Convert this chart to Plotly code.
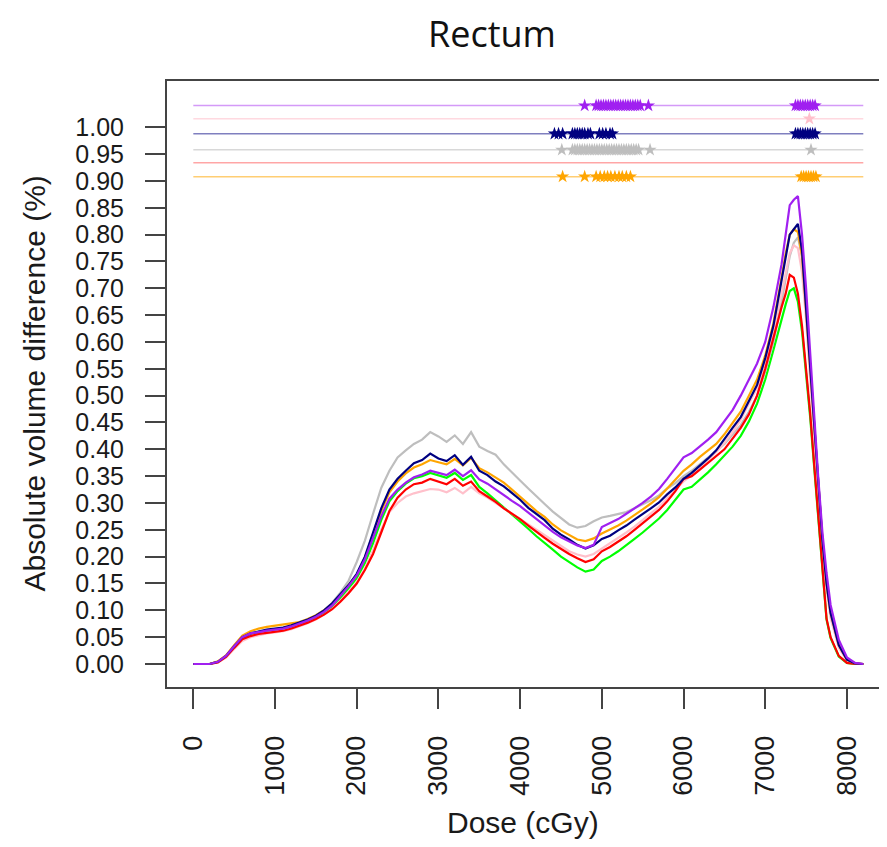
import plotly.graph_objects as go

dose = [0, 100, 200, 300, 400, 500, 600, 700, 800, 900,
        1000, 1100, 1200, 1300, 1400, 1500, 1600, 1700, 1800, 1900,
        2000, 2100, 2200, 2300, 2400, 2500, 2600, 2700, 2800, 2900,
        3000, 3100, 3200, 3300, 3400, 3500, 3600, 3700, 3800, 3900,
        4000, 4100, 4200, 4300, 4400, 4500, 4600, 4700, 4800, 4900,
        5000, 5100, 5200, 5300, 5400, 5500, 5600, 5700, 5800, 5900,
        6000, 6100, 6200, 6300, 6400, 6500, 6600, 6700, 6800, 6900,
        7000, 7100, 7200,
        7250, 7300, 7350, 7400, 7450, 7500, 7550, 7600, 7650, 7700, 7750, 7800,
        7900, 8000, 8100, 8200]

navy_vals = [0, 0, 0, 0.004, 0.015, 0.033, 0.05, 0.057, 0.061, 0.064,
             0.066, 0.068, 0.072, 0.077, 0.083, 0.09, 0.1, 0.113, 0.13, 0.147,
             0.168, 0.2, 0.245, 0.29, 0.325, 0.345, 0.36, 0.374, 0.38, 0.392,
             0.383, 0.378, 0.389, 0.371, 0.386, 0.36, 0.352, 0.34, 0.331, 0.318,
             0.306, 0.291, 0.279, 0.268, 0.252, 0.241, 0.232, 0.222, 0.215, 0.221,
             0.233, 0.239, 0.249, 0.258, 0.269, 0.279, 0.29, 0.301, 0.316, 0.329,
             0.345, 0.356, 0.369, 0.383, 0.398, 0.42, 0.44, 0.46, 0.49, 0.52,
             0.57, 0.63, 0.715,
             0.76, 0.8, 0.81, 0.82, 0.77, 0.66, 0.55, 0.44, 0.33, 0.23, 0.15, 0.095,
             0.035, 0.008, 0.001, 0]

gray_vals = [0, 0, 0, 0.004, 0.014, 0.031, 0.048, 0.056, 0.06, 0.063,
             0.065, 0.067, 0.07, 0.075, 0.082, 0.09, 0.1, 0.114, 0.133, 0.155,
             0.19, 0.23, 0.28, 0.328, 0.36, 0.385, 0.398, 0.41, 0.418, 0.432,
             0.424, 0.414, 0.426, 0.41, 0.432, 0.405, 0.397, 0.39, 0.372, 0.356,
             0.342, 0.327, 0.312, 0.298, 0.284, 0.272, 0.26, 0.254, 0.257, 0.266,
             0.273, 0.276, 0.279, 0.283, 0.29, 0.297, 0.305, 0.314, 0.327, 0.337,
             0.35, 0.36, 0.372, 0.385, 0.397, 0.41, 0.428, 0.445, 0.47, 0.5,
             0.545, 0.6, 0.675,
             0.72, 0.76, 0.785, 0.795, 0.76, 0.66, 0.55, 0.44, 0.335, 0.235, 0.155, 0.1,
             0.038, 0.009, 0.001, 0]

orange_vals = [0, 0, 0, 0.005, 0.016, 0.035, 0.053, 0.061, 0.066, 0.069,
               0.071, 0.073, 0.075, 0.078, 0.084, 0.091, 0.1, 0.112, 0.128, 0.146,
               0.166, 0.198, 0.24, 0.285, 0.32, 0.34, 0.355, 0.366, 0.372, 0.38,
               0.376, 0.372, 0.382, 0.37, 0.384, 0.365, 0.357, 0.348, 0.338, 0.325,
               0.312, 0.298, 0.285, 0.274, 0.26, 0.249, 0.24, 0.232, 0.229, 0.234,
               0.243, 0.25, 0.258, 0.267, 0.277, 0.288, 0.299, 0.311, 0.327, 0.343,
               0.36, 0.372, 0.386, 0.398, 0.41, 0.428, 0.448, 0.47, 0.5, 0.53,
               0.575, 0.635, 0.72,
               0.765, 0.8, 0.81, 0.805, 0.76, 0.66, 0.55, 0.44, 0.33, 0.23, 0.15, 0.095,
               0.035, 0.008, 0.001, 0]

purple_vals = [0, 0, 0, 0.004, 0.015, 0.033, 0.05, 0.057, 0.06, 0.062,
               0.064, 0.066, 0.07, 0.075, 0.081, 0.088, 0.097, 0.109, 0.126, 0.145,
               0.165, 0.195, 0.235, 0.275, 0.308, 0.325, 0.338, 0.348, 0.353, 0.36,
               0.356, 0.352, 0.362, 0.35, 0.361, 0.344, 0.336, 0.325, 0.315, 0.304,
               0.294, 0.282, 0.27, 0.258, 0.246, 0.236, 0.228, 0.221, 0.216, 0.222,
               0.255, 0.262, 0.27, 0.28, 0.29, 0.3, 0.312, 0.326, 0.345, 0.365,
               0.385, 0.393, 0.405, 0.418, 0.432, 0.452, 0.473, 0.5, 0.53, 0.56,
               0.6, 0.665, 0.745,
               0.8, 0.855, 0.865, 0.872, 0.8, 0.7, 0.58, 0.455, 0.345, 0.245, 0.17, 0.11,
               0.045, 0.012, 0.002, 0]

pink_vals = [0, 0, 0, 0.003, 0.012, 0.028, 0.043, 0.05, 0.054, 0.057,
             0.059, 0.061, 0.065, 0.07, 0.076, 0.083, 0.092, 0.103, 0.118, 0.135,
             0.152, 0.178, 0.212, 0.25, 0.283, 0.3, 0.312, 0.318, 0.322, 0.326,
             0.325, 0.32, 0.328, 0.318, 0.33, 0.318, 0.31, 0.3, 0.29, 0.28,
             0.27, 0.26, 0.25, 0.24, 0.229, 0.219, 0.21, 0.204, 0.2, 0.205,
             0.215, 0.224, 0.234, 0.245, 0.256, 0.268, 0.28, 0.293, 0.309, 0.324,
             0.34, 0.352, 0.366, 0.38, 0.395, 0.412, 0.432, 0.455, 0.485, 0.515,
             0.56, 0.62, 0.69,
             0.73, 0.765, 0.78, 0.775, 0.73, 0.64, 0.53, 0.42, 0.315, 0.215, 0.14, 0.085,
             0.03, 0.006, 0.001, 0]

red_vals = [0, 0, 0, 0.003, 0.013, 0.03, 0.046, 0.052, 0.056, 0.058,
            0.06, 0.062, 0.066, 0.071, 0.077, 0.084, 0.092, 0.102, 0.116, 0.132,
            0.15, 0.175, 0.205, 0.245, 0.285, 0.31, 0.325, 0.335, 0.338, 0.345,
            0.34, 0.335, 0.345, 0.332, 0.34, 0.322, 0.312, 0.302, 0.29, 0.28,
            0.27, 0.258, 0.246, 0.235, 0.224, 0.214, 0.205, 0.197, 0.19, 0.195,
            0.21, 0.218, 0.228, 0.238, 0.25, 0.262, 0.274, 0.287, 0.303, 0.322,
            0.345, 0.35, 0.362, 0.375, 0.388, 0.4, 0.42, 0.44, 0.465, 0.5,
            0.55, 0.61, 0.665,
            0.69, 0.725, 0.72, 0.69, 0.63, 0.55, 0.467, 0.37, 0.27, 0.17, 0.085, 0.05,
            0.015, 0.002, 0, 0]

green_vals = [0, 0, 0, 0.004, 0.014, 0.032, 0.049, 0.056, 0.06, 0.062,
              0.064, 0.066, 0.069, 0.074, 0.08, 0.087, 0.095, 0.106, 0.122, 0.14,
              0.16, 0.188, 0.225, 0.268, 0.303, 0.322, 0.336, 0.346, 0.35, 0.356,
              0.352, 0.347, 0.356, 0.343, 0.352, 0.33, 0.318, 0.305, 0.292, 0.279,
              0.266, 0.252, 0.238, 0.226, 0.213, 0.2, 0.19, 0.18, 0.172, 0.176,
              0.192, 0.2, 0.21, 0.221, 0.233, 0.245, 0.258, 0.271, 0.287, 0.305,
              0.325, 0.33, 0.343, 0.357, 0.372, 0.388, 0.405, 0.425, 0.452, 0.485,
              0.53, 0.585, 0.645,
              0.67, 0.695, 0.70, 0.675, 0.62, 0.54, 0.46, 0.365, 0.265, 0.165, 0.083, 0.048,
              0.014, 0.002, 0, 0]

# significance rows (y level of each row) and starred dose positions
sig_levels = {"purple": 1.0405, "pink": 1.016, "navy": 0.988,
              "gray": 0.958, "red": 0.934, "orange": 0.908}
purple_stars = [4790, 4930, 4960, 4990, 5020, 5050, 5080, 5110, 5140, 5170, 5200,
                5230, 5260, 5290, 5320, 5350, 5380, 5410, 5440, 5470, 5570,
                7370, 7400, 7430, 7460, 7490, 7520, 7550, 7580, 7610]
pink_stars = [7540]
navy_stars = [4420, 4470, 4520, 4640, 4670, 4700, 4730, 4760, 4790, 4830, 4860,
              4970, 5010, 5050, 5100, 5130,
              7370, 7400, 7430, 7460, 7490, 7520, 7550, 7580, 7610]
gray_stars = [4510, 4640, 4670, 4700, 4730, 4760, 4790, 4820, 4850, 4880, 4910,
              4940, 4970, 5000, 5030, 5060, 5090, 5120, 5150, 5180, 5210, 5240,
              5270, 5300, 5330, 5360, 5390, 5420, 5450, 5590, 7560]
red_stars = []
orange_stars = [4520, 4790, 4930, 4980, 5030, 5070, 5110, 5160, 5210, 5250, 5300,
                5350, 7440, 7470, 7500, 7530, 7560, 7590, 7620]

ytick_vals = [0.0, 0.05, 0.1, 0.15, 0.2, 0.25, 0.3, 0.35, 0.4, 0.45, 0.5,
              0.55, 0.6, 0.65, 0.7, 0.75, 0.8, 0.85, 0.9, 0.95, 1.0]
ytick_text = ["0.00", "0.05", "0.10", "0.15", "0.20", "0.25", "0.30", "0.35",
              "0.40", "0.45", "0.50", "0.55", "0.60", "0.65", "0.70", "0.75",
              "0.80", "0.85", "0.90", "0.95", "1.00"]
xtick_vals = [0, 1000, 2000, 3000, 4000, 5000, 6000, 7000, 8000]

colors = {"purple": "#A020F0", "pink": "#FFC0CB", "navy": "#000080",
          "gray": "#BEBEBE", "red": "#FF0000", "orange": "#FFA500",
          "green": "#00FF00"}
line_colors = {"purple": "rgba(160,32,240,0.45)", "pink": "rgba(255,192,203,0.6)",
               "navy": "rgba(0,0,128,0.5)", "gray": "rgba(190,190,190,0.6)",
               "red": "rgba(255,0,0,0.35)", "orange": "rgba(255,165,0,0.55)"}

fig = go.Figure()

curves = [("green", green_vals), ("gray", gray_vals), ("pink", pink_vals),
          ("red", red_vals), ("orange", orange_vals), ("navy", navy_vals),
          ("purple", purple_vals)]
for name, vals in curves:
    fig.add_trace(go.Scatter(x=dose, y=vals, mode="lines",
                             line=dict(color=colors[name], width=2.2),
                             showlegend=False, hoverinfo="skip"))

stars = {"purple": purple_stars, "pink": pink_stars, "navy": navy_stars,
         "gray": gray_stars, "red": red_stars, "orange": orange_stars}
for name, lvl in sig_levels.items():
    fig.add_trace(go.Scatter(x=[dose[0], dose[-1]], y=[lvl, lvl], mode="lines",
                             line=dict(color=line_colors[name], width=1.5),
                             showlegend=False, hoverinfo="skip"))
    if stars[name]:
        fig.add_trace(go.Scatter(x=stars[name], y=[lvl] * len(stars[name]),
                                 mode="markers",
                                 marker=dict(symbol="star", size=10,
                                             color=colors[name], line=dict(width=0)),
                                 showlegend=False, hoverinfo="skip"))

axis_font = dict(family="Liberation Sans, Arial, sans-serif", size=25, color="#1a1a1a")
fig.update_layout(
    width=879, height=839,
    margin=dict(l=159, r=1, t=73, b=160),
    paper_bgcolor="white", plot_bgcolor="white",
    xaxis=dict(range=[-322, 8478], tickvals=xtick_vals, tickangle=-90,
               ticks="outside", ticklen=20, tickwidth=2, tickcolor="#444",
               showline=True, linecolor="#444", linewidth=2, mirror=True,
               showgrid=False, zeroline=False,
               tickfont=dict(family="Liberation Sans, Arial, sans-serif", size=27, color="#1a1a1a"),
               ticklabelstandoff=16, automargin=False),
    yaxis=dict(range=[-0.0429, 1.0863], tickvals=ytick_vals, ticktext=ytick_text,
               ticks="outside", ticklen=20, tickwidth=2, tickcolor="#444",
               showline=True, linecolor="#444", linewidth=2, mirror=True,
               showgrid=False, zeroline=False, tickfont=axis_font,
               ticklabelstandoff=16, automargin=False),
    annotations=[
        dict(text="Rectum", xref="paper", yref="paper", x=0.452, y=1.0,
             yshift=48, xanchor="center", yanchor="middle", showarrow=False,
             font=dict(family="Open Sans, Noto Sans, sans-serif", size=36, color="#111")),
        dict(text="Absolute volume difference (%)", xref="paper", yref="paper",
             x=-0.1836, y=0.5008, xanchor="center", yanchor="middle", textangle=-90,
             showarrow=False,
             font=dict(family="Liberation Sans, Arial, sans-serif", size=30, color="#1a1a1a")),
        dict(text="Dose (cGy)", xref="paper", yref="paper", x=0.495, y=-0.2228,
             xanchor="center", yanchor="middle", showarrow=False,
             font=dict(family="Liberation Sans, Arial, sans-serif", size=30, color="#1a1a1a")),
    ],
)

fig.write_html("out.html")
